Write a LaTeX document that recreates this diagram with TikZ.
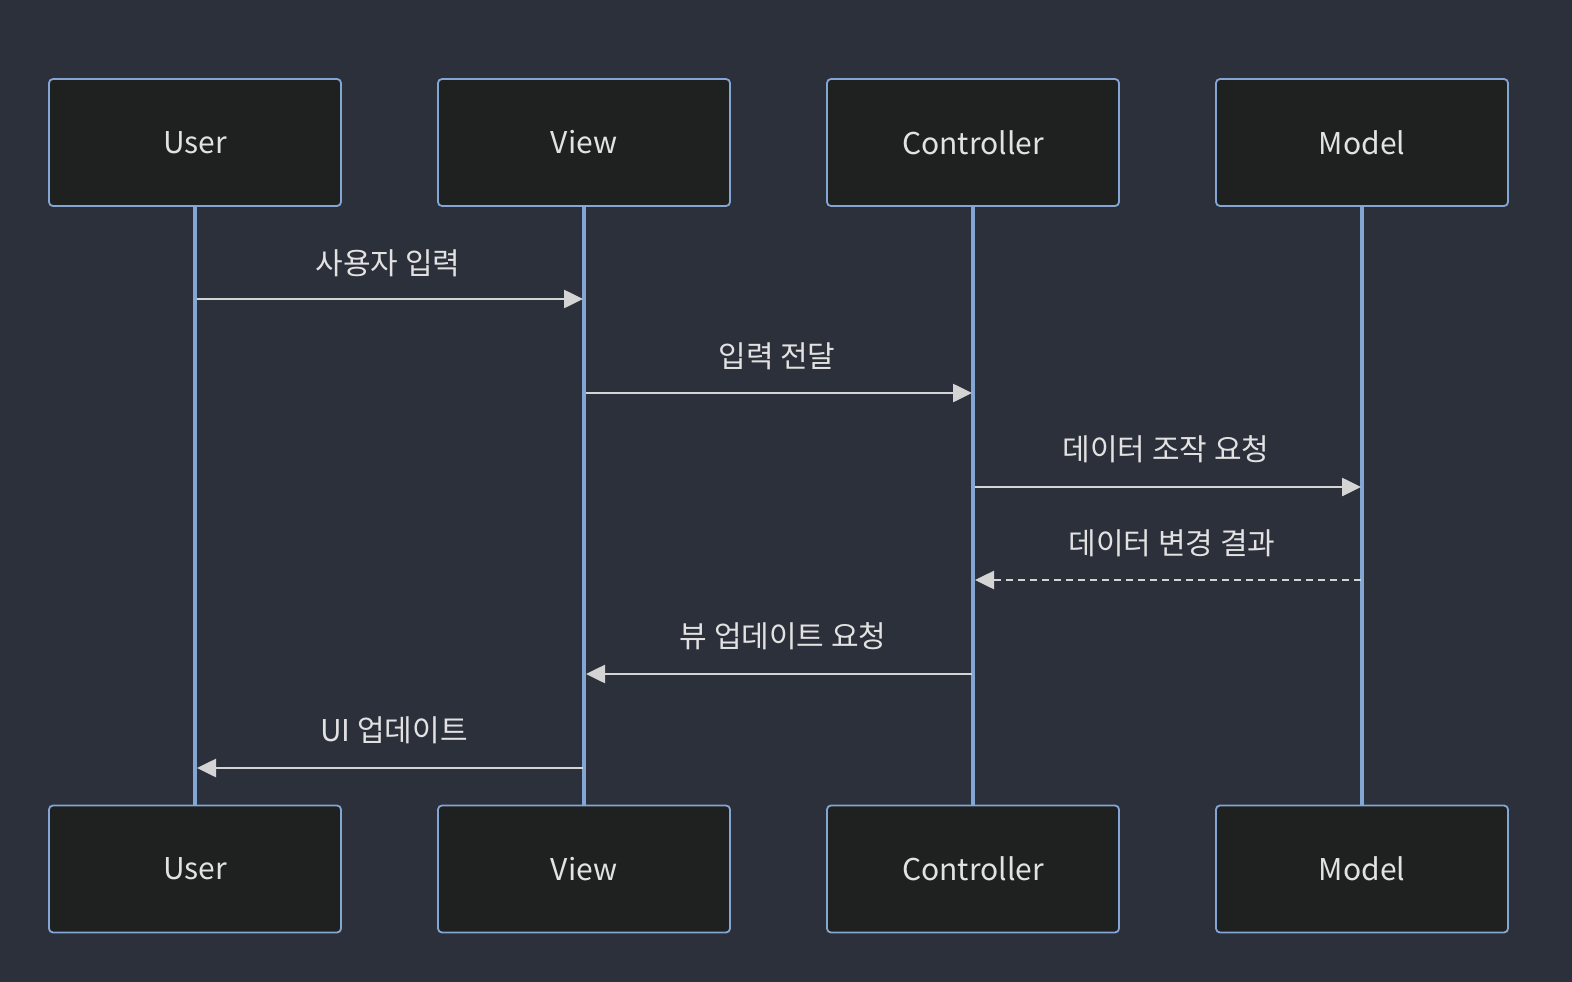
\documentclass[tikz,border=0pt]{standalone}
\usepackage{fontspec}
\setmainfont{Noto Sans CJK KR}
\usetikzlibrary{arrows.meta}
\definecolor{bg}{HTML}{2C303B}
\definecolor{boxfill}{HTML}{1F2020}
\definecolor{boxline}{HTML}{83A6D4}
\definecolor{msg}{HTML}{D4D4D4}
\definecolor{txt}{HTML}{E2E2E2}
\begin{document}
\begin{tikzpicture}[x=1pt,y=-1pt,
  actor/.style={draw=boxline,line width=1.8pt,fill=boxfill,rounded corners=4pt,
    minimum width=292pt,minimum height=127pt,inner sep=0pt,text=txt,font=\fontsize{30}{34}\selectfont},
  life/.style={draw=boxline,line width=3.5pt},
  msgline/.style={draw=msg,line width=2.6pt,-{Triangle[length=19pt,width=18pt]}},
  dashmsg/.style={msgline,dash pattern=on 7pt off 5pt},
  lbl/.style={text=txt,font=\fontsize{30}{34}\selectfont,inner sep=0pt}]
\fill[bg] (0,0) rectangle (1572,982);
\useasboundingbox (0,0) rectangle (1572,982);
% lifelines
\foreach \n/\x in {u/195,v/584,c/973,m/1362}{
  \coordinate (\n t) at (\x,206);
  \coordinate (\n b) at (\x,806);
  \draw[life] (\n t) -- (\n b);
}
% actors top
\node[actor] (uT) at (195,142.5) {User};
\node[actor] (vT) at (584,142.5) {View};
\node[actor] (cT) at (973,142.5) {Controller};
\node[actor] (mT) at (1362,142.5) {Model};
% actors bottom
\node[actor] (uB) at (195,869) {User};
\node[actor] (vB) at (584,869) {View};
\node[actor] (cB) at (973,869) {Controller};
\node[actor] (mB) at (1362,869) {Model};
% message anchors
\coordinate (m1s) at (197,299); \coordinate (m1e) at (583,299);
\coordinate (m2s) at (586,393); \coordinate (m2e) at (972,393);
\coordinate (m3s) at (975,487); \coordinate (m3e) at (1361,487);
\coordinate (m4s) at (1361,580); \coordinate (m4e) at (975,580);
\coordinate (m5s) at (972,674); \coordinate (m5e) at (586,674);
\coordinate (m6s) at (583,768); \coordinate (m6e) at (197,768);
\draw[msgline] (m1s) -- (m1e);
\draw[msgline] (m2s) -- (m2e);
\draw[msgline] (m3s) -- (m3e);
\draw[dashmsg] (m4s) -- (m4e);
\draw[msgline] (m5s) -- (m5e);
\draw[msgline] (m6s) -- (m6e);
\node[lbl] (l1) at (388,263) {사용자 입력};
\node[lbl] (l2) at (777,356) {입력 전달};
\node[lbl] (l3) at (1166,449) {데이터 조작 요청};
\node[lbl] (l4) at (1172,543) {데이터 변경 결과};
\node[lbl] (l5) at (783,636) {뷰 업데이트 요청};
\node[lbl] (l6) at (394,730) {UI 업데이트};
\end{tikzpicture}
\end{document}
